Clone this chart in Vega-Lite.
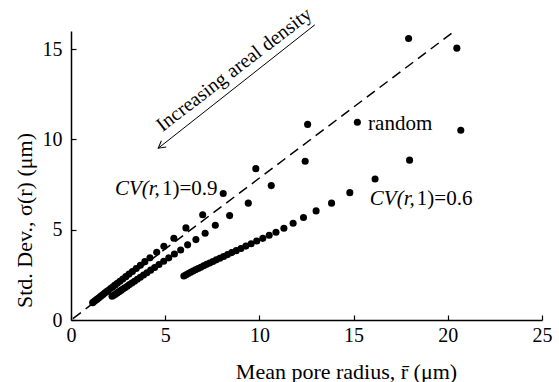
{
  "$schema": "https://vega.github.io/schema/vega-lite/v6.json",
  "width": 471,
  "height": 289,
  "autosize": "none",
  "padding": {"left": 71, "top": 31, "right": 17, "bottom": 62},
  "background": "white",
  "config": {
    "view": {"stroke": null},
    "axis": {
      "grid": false,
      "labelFontSize": 20,
      "labelColor": "black",
      "titleFontSize": 22,
      "titleFontWeight": "normal",
      "titleColor": "black",
      "domainColor": "black",
      "domainWidth": 1.5,
      "tickColor": "black",
      "tickWidth": 1.2,
      "tickSize": -5,
      "labelFlush": false,
      "labelOverlap": false
    }
  },
  "datasets": {
    "pts": [
      {"s": "A", "x": 17.92, "y": 15.58}, {"s": "A", "x": 12.56, "y": 10.83}, {"s": "A", "x": 9.81, "y": 8.38},
      {"s": "A", "x": 8.08, "y": 7.0}, {"s": "A", "x": 6.99, "y": 5.83}, {"s": "A", "x": 6.1, "y": 5.1},
      {"s": "A", "x": 5.46, "y": 4.53}, {"s": "A", "x": 4.93, "y": 4.08}, {"s": "A", "x": 4.55, "y": 3.75},
      {"s": "A", "x": 4.19, "y": 3.45}, {"s": "A", "x": 3.92, "y": 3.23}, {"s": "A", "x": 3.68, "y": 3.03},
      {"s": "A", "x": 3.46, "y": 2.85}, {"s": "A", "x": 3.26, "y": 2.69}, {"s": "A", "x": 3.08, "y": 2.54},
      {"s": "A", "x": 2.91, "y": 2.4}, {"s": "A", "x": 2.75, "y": 2.27}, {"s": "A", "x": 2.6, "y": 2.15},
      {"s": "A", "x": 2.46, "y": 2.03}, {"s": "A", "x": 2.33, "y": 1.93}, {"s": "A", "x": 2.21, "y": 1.83},
      {"s": "A", "x": 2.1, "y": 1.74}, {"s": "A", "x": 1.99, "y": 1.65}, {"s": "A", "x": 1.89, "y": 1.57},
      {"s": "A", "x": 1.79, "y": 1.49}, {"s": "A", "x": 1.7, "y": 1.41}, {"s": "A", "x": 1.61, "y": 1.34},
      {"s": "A", "x": 1.53, "y": 1.27}, {"s": "A", "x": 1.45, "y": 1.2}, {"s": "A", "x": 1.37, "y": 1.14},
      {"s": "A", "x": 1.29, "y": 1.08}, {"s": "A", "x": 1.22, "y": 1.02}, {"s": "A", "x": 1.15, "y": 0.96},
      {"s": "B", "x": 20.48, "y": 15.05}, {"s": "B", "x": 15.2, "y": 10.95}, {"s": "B", "x": 12.43, "y": 8.79},
      {"s": "B", "x": 10.63, "y": 7.44}, {"s": "B", "x": 9.41, "y": 6.47}, {"s": "B", "x": 8.42, "y": 5.78},
      {"s": "B", "x": 7.66, "y": 5.25}, {"s": "B", "x": 7.12, "y": 4.8}, {"s": "B", "x": 6.63, "y": 4.45},
      {"s": "B", "x": 6.19, "y": 4.16}, {"s": "B", "x": 5.82, "y": 3.88}, {"s": "B", "x": 5.49, "y": 3.65},
      {"s": "B", "x": 5.19, "y": 3.44}, {"s": "B", "x": 4.92, "y": 3.25}, {"s": "B", "x": 4.67, "y": 3.07},
      {"s": "B", "x": 4.44, "y": 2.91}, {"s": "B", "x": 4.23, "y": 2.76}, {"s": "B", "x": 4.03, "y": 2.62},
      {"s": "B", "x": 3.85, "y": 2.49}, {"s": "B", "x": 3.68, "y": 2.37}, {"s": "B", "x": 3.52, "y": 2.26},
      {"s": "B", "x": 3.37, "y": 2.15}, {"s": "B", "x": 3.23, "y": 2.05}, {"s": "B", "x": 3.1, "y": 1.96},
      {"s": "B", "x": 2.98, "y": 1.87}, {"s": "B", "x": 2.86, "y": 1.79}, {"s": "B", "x": 2.75, "y": 1.71},
      {"s": "B", "x": 2.65, "y": 1.64}, {"s": "B", "x": 2.55, "y": 1.57}, {"s": "B", "x": 2.45, "y": 1.5},
      {"s": "B", "x": 2.36, "y": 1.43}, {"s": "B", "x": 2.27, "y": 1.37}, {"s": "B", "x": 2.18, "y": 1.31},
      {"s": "C", "x": 20.69, "y": 10.51}, {"s": "C", "x": 17.97, "y": 8.85}, {"s": "C", "x": 16.14, "y": 7.81},
      {"s": "C", "x": 14.8, "y": 7.05}, {"s": "C", "x": 13.83, "y": 6.47}, {"s": "C", "x": 13.01, "y": 6.04},
      {"s": "C", "x": 12.34, "y": 5.67}, {"s": "C", "x": 11.79, "y": 5.36}, {"s": "C", "x": 11.3, "y": 5.08},
      {"s": "C", "x": 10.88, "y": 4.86}, {"s": "C", "x": 10.52, "y": 4.69}, {"s": "C", "x": 10.18, "y": 4.52},
      {"s": "C", "x": 9.86, "y": 4.37}, {"s": "C", "x": 9.56, "y": 4.22}, {"s": "C", "x": 9.28, "y": 4.09},
      {"s": "C", "x": 9.02, "y": 3.96}, {"s": "C", "x": 8.77, "y": 3.84}, {"s": "C", "x": 8.53, "y": 3.73},
      {"s": "C", "x": 8.31, "y": 3.62}, {"s": "C", "x": 8.1, "y": 3.52}, {"s": "C", "x": 7.9, "y": 3.42},
      {"s": "C", "x": 7.71, "y": 3.33}, {"s": "C", "x": 7.53, "y": 3.24}, {"s": "C", "x": 7.36, "y": 3.16},
      {"s": "C", "x": 7.2, "y": 3.08}, {"s": "C", "x": 7.04, "y": 3.0}, {"s": "C", "x": 6.89, "y": 2.92},
      {"s": "C", "x": 6.75, "y": 2.85}, {"s": "C", "x": 6.61, "y": 2.78}, {"s": "C", "x": 6.48, "y": 2.71},
      {"s": "C", "x": 6.35, "y": 2.64}, {"s": "C", "x": 6.23, "y": 2.57}, {"s": "C", "x": 6.11, "y": 2.5},
      {"s": "C", "x": 5.99, "y": 2.44}
    ]
  },
  "encoding": {
    "x": {"field": "x", "type": "quantitative",
      "scale": {"domain": [0, 25], "nice": false, "zero": false},
      "axis": {"title": "Mean pore radius, r\u0304 (μm)", "values": [0, 5, 10, 15, 20, 25], "labelPadding": 10,
        "labelFont": "Liberation Serif", "titleFont": "Liberation Serif",
        "titleX": 275, "titleY": 58, "titleAlign": "center", "titleBaseline": "alphabetic", "titleAnchor": null}},
    "y": {"field": "y", "type": "quantitative",
      "scale": {"domain": [0, 16], "nice": false, "zero": false},
      "axis": {"title": "Std. Dev., σ(r) (μm)", "values": [0, 5, 10, 15], "labelPadding": 14,
        "labelFont": "Liberation Serif", "titleFont": "Liberation Serif",
        "titleX": -47, "titleY": 189, "titleAngle": 270, "titleAlign": "center", "titleBaseline": "middle", "titleAnchor": null}}
  },
  "layer": [
    {
      "data": {"values": [{"x": 0.1, "y": 0.08}, {"x": 20.3, "y": 15.95}]},
      "mark": {"type": "line", "color": "black", "strokeWidth": 1.5, "strokeDash": [10, 6]}
    },
    {
      "data": {"name": "pts"},
      "mark": {"type": "point", "filled": true, "shape": "circle", "size": 50, "color": "black", "opacity": 1}
    },
    {
      "data": {"values": [{"x": 12.94, "y": 16.34}, {"x": 4.63, "y": 9.51}]},
      "mark": {"type": "line", "color": "black", "strokeWidth": 1}
    },
    {
      "data": {"values": [{"x": 4.63, "y": 9.51}]},
      "mark": {"type": "point", "shape": "M 1 -0.55 L 0 0 L 1 0.55", "filled": false, "size": 200, "angle": 322, "color": "black", "strokeWidth": 1, "opacity": 1}
    },
    {
      "data": {"values": [{"x": 8.85, "y": 13.6, "t": "Increasing areal density"}]},
      "mark": {"type": "text", "font": "Liberation Serif", "fontSize": 20, "align": "center", "baseline": "alphabetic", "angle": 322.5, "color": "black"},
      "encoding": {"text": {"field": "t"}}
    },
    {
      "data": {"values": [{"x": 2.33, "y": 6.93, "t": "CV(r,"}, {"x": 15.86, "y": 6.37, "t": "CV(r,"}]},
      "mark": {"type": "text", "font": "Liberation Serif", "fontStyle": "italic", "fontSize": 21, "align": "left", "baseline": "alphabetic", "color": "black"},
      "encoding": {"text": {"field": "t"}}
    },
    {
      "data": {"values": [{"x": 2.33, "y": 6.93, "t": "1)=0.9"}, {"x": 15.86, "y": 6.37, "t": "1)=0.6"}]},
      "mark": {"type": "text", "font": "Liberation Serif", "fontSize": 21, "align": "left", "baseline": "alphabetic", "dx": 47, "color": "black"},
      "encoding": {"text": {"field": "t"}}
    },
    {
      "data": {"values": [{"x": 15.77, "y": 10.53, "t": "random"}]},
      "mark": {"type": "text", "font": "Liberation Serif", "fontSize": 21, "align": "left", "baseline": "alphabetic", "color": "black"},
      "encoding": {"text": {"field": "t"}}
    }
  ]
}
